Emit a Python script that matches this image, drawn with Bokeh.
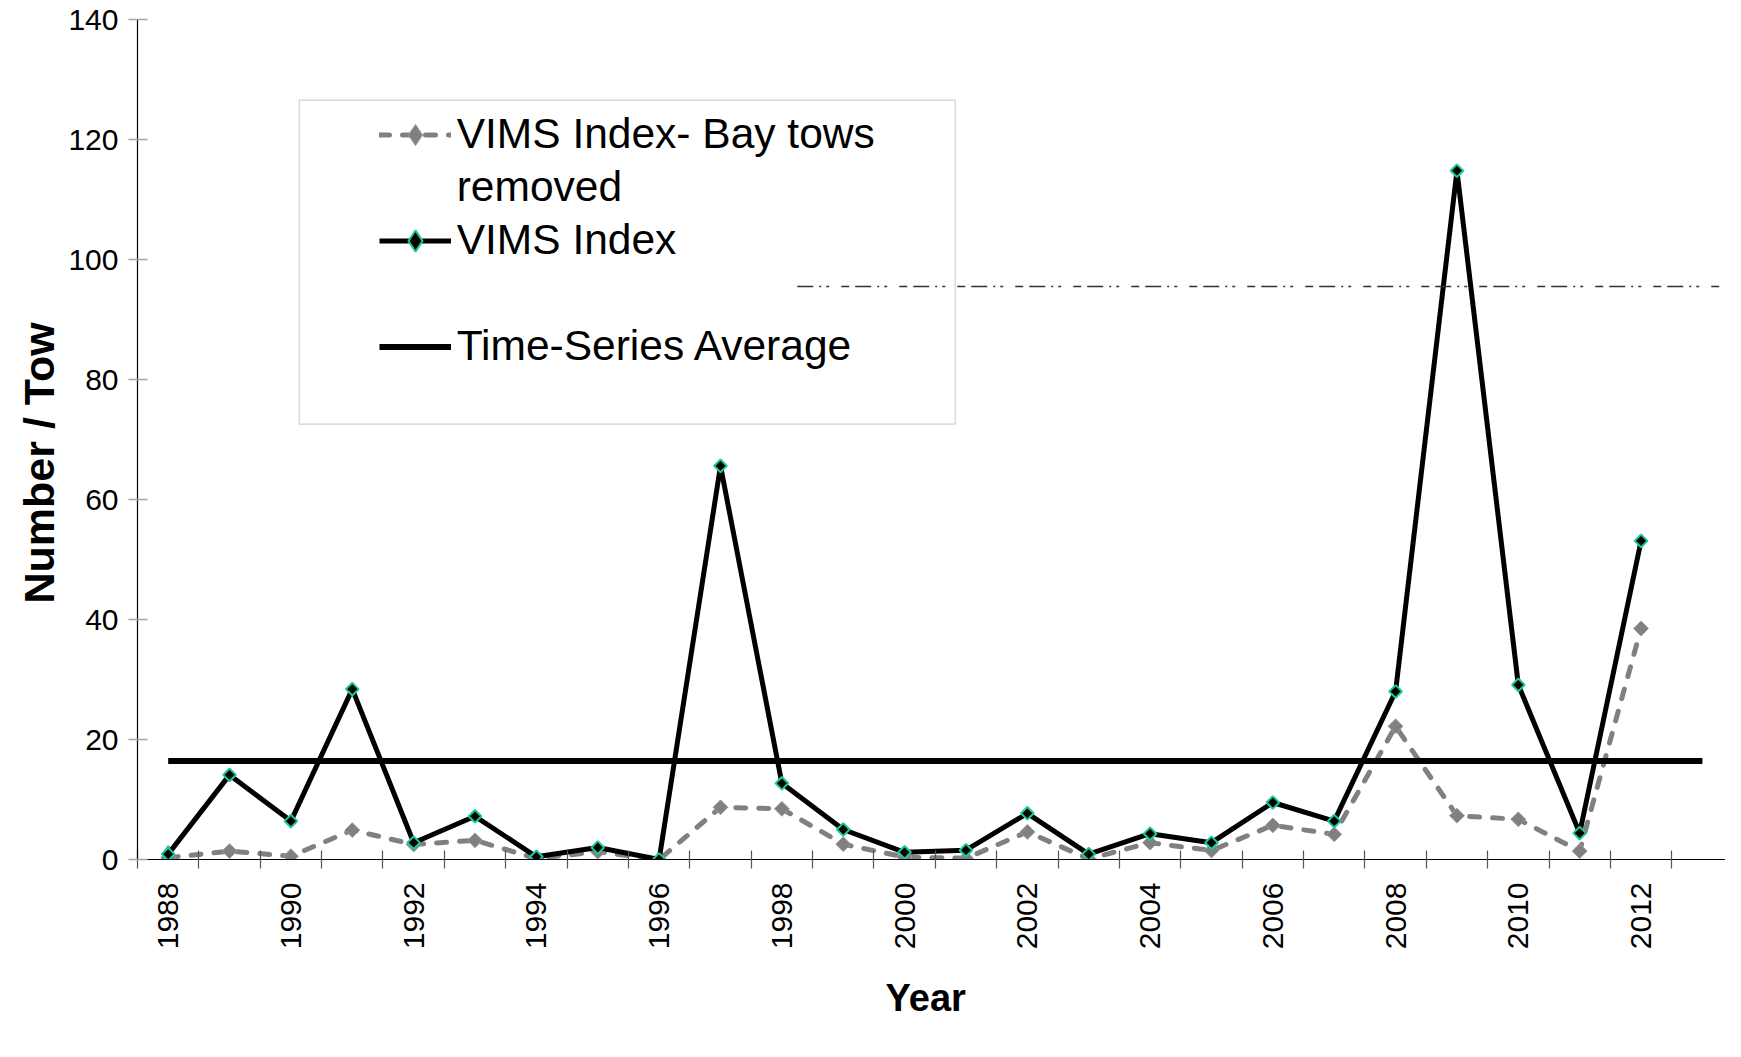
import math
from bokeh.plotting import figure
from bokeh.models import (FixedTicker, Legend, LegendItem, BoxAnnotation, ColumnDataSource, Title)
from bokeh.embed import file_html
from bokeh.resources import INLINE

# ---------------- data ----------------
years = list(range(1988, 2013))
bay_removed = [0.3, 1.4, 0.55, 4.9, 2.5, 3.2, 0.15, 1.3, 0.0, 8.7, 8.45, 2.55, 0.4,
               0.2, 4.6, 0.1, 2.8, 1.5, 5.7, 4.2, 22.2, 7.3, 6.7, 1.4, 38.5]
vims_index = [0.9, 14.1, 6.4, 28.4, 2.8, 7.2, 0.45, 2.0, 0.0, 65.6, 12.7, 5.0, 1.2,
              1.55, 7.7, 0.9, 4.3, 2.8, 9.5, 6.4, 28.0, 114.8, 29.1, 4.4, 53.1]
avg_years = [1988, 2013]
avg_value = [16.4, 16.4]
stray_years = [1998.25, 2013.3]
stray_value = [95.5, 95.5]
x_tick_labels = list(range(1988, 2013, 2))
x_boundaries = [y - 0.5 for y in range(1988, 2015)]
y_ticks = [0, 20, 40, 60, 80, 100, 120, 140]
x_title = "Year"
y_title = "Number / Tow"

FONT = "Liberation Sans"
TEAL = "#1cc99c"
GRAY = "#808080"

p = figure(width=1725, height=1041, output_backend="svg", toolbar_location=None,
           x_range=(1987.5, 2013.376), y_range=(0, 140),
           min_border_left=137, min_border_right=0, min_border_top=19,
           min_border_bottom=182)
p.outline_line_color = None
p.xgrid.visible = False
p.ygrid.visible = False
p.background_fill_color = "white"
p.border_fill_color = "white"

# ---------------- axes ----------------
xa = p.xaxis[0]
xa.ticker = FixedTicker(ticks=x_tick_labels, minor_ticks=x_boundaries)
xa.major_tick_in = 0
xa.major_tick_out = 0
xa.minor_tick_in = 9
xa.minor_tick_out = 9
xa.minor_tick_line_color = "#555555"
xa.minor_tick_line_width = 1.2
xa.axis_line_color = "black"
xa.axis_line_width = 1.2
xa.major_label_orientation = math.pi / 2
xa.major_label_standoff = 14
xa.major_label_text_font = FONT
xa.major_label_text_font_size = "30px"
xa.major_label_text_color = "black"

ya = p.yaxis[0]
ya.ticker = FixedTicker(ticks=y_ticks)
ya.minor_tick_line_color = None
ya.major_tick_in = 10
ya.major_tick_out = 9
ya.major_tick_line_color = "#a6a6a6"
ya.major_tick_line_width = 1.5
ya.axis_line_color = "black"
ya.axis_line_width = 1.2
ya.major_label_standoff = 10
ya.major_label_text_font = FONT
ya.major_label_text_font_size = "30px"
ya.major_label_text_color = "black"

# axis titles as side-panel titles (the reference's titles sit slightly off-centre)
p.add_layout(Title(text=y_title, align="left", offset=256, standoff=6,
                   text_font=FONT, text_font_style="bold", text_font_size="43px",
                   text_color="black"), "left")
p.add_layout(Title(text=x_title, align="left", offset=748, standoff=44,
                   text_font=FONT, text_font_style="bold", text_font_size="38px",
                   text_color="black"), "below")

# ---------------- series ----------------
src_gray = ColumnDataSource(dict(x=years, y=bay_removed))
src_black = ColumnDataSource(dict(x=years, y=vims_index))

# legend key markers (diamonds), drawn beneath the first data point of each series
g_key = p.scatter(years[:1], bay_removed[:1], marker="diamond", size=17,
                  fill_color=GRAY, line_color="#9a9a9a", line_width=1, level="underlay")
b_key = p.scatter(years[:1], vims_index[:1], marker="diamond", size=16,
                  fill_color="black", line_color=TEAL, line_width=2, level="underlay")

g_line = p.line("x", "y", source=src_gray, line_color=GRAY, line_width=5,
                line_dash="10 13", line_cap="round")
g_mark = p.scatter("x", "y", source=src_gray, marker="square", angle=math.pi / 4,
                   size=10.5, fill_color=GRAY, line_color="#9a9a9a", line_width=1)

b_line = p.line("x", "y", source=src_black, line_color="black", line_width=5)
b_mark = p.scatter("x", "y", source=src_black, marker="square", angle=math.pi / 4,
                   size=9, fill_color="black", line_color=TEAL, line_width=2)

a_line = p.line(avg_years, avg_value, line_color="black", line_width=6)

blank = p.line(years[:1], [0], line_alpha=0)

# ---------------- legend ----------------
box = BoxAnnotation(left=161.7, right=817.7, bottom=435.3, top=759.3,
                    left_units="screen", right_units="screen",
                    top_units="screen", bottom_units="screen",
                    fill_color="white", fill_alpha=1.0,
                    line_color="#6e6e6e", line_width=1.2)
p.add_layout(box)

legend = Legend(items=[
    LegendItem(label="VIMS Index- Bay tows", renderers=[g_line, g_key]),
    LegendItem(label="removed", renderers=[blank]),
    LegendItem(label="VIMS Index", renderers=[b_line, b_key]),
    LegendItem(label=" ", renderers=[blank]),
    LegendItem(label="Time-Series Average", renderers=[a_line]),
], location=(241.7, 486.5))
legend.padding = 0
legend.margin = 0
legend.spacing = 0
legend.border_line_alpha = 0
legend.background_fill_alpha = 0
legend.glyph_width = 72
legend.glyph_height = 53
legend.label_height = 53
legend.label_standoff = 6
legend.label_text_font = FONT
legend.label_text_font_size = "42.5px"
legend.label_text_color = "black"
legend.click_policy = "none"
p.add_layout(legend)

# stray thin broken line drawn above the legend box
stray = p.line(stray_years, stray_value, line_color="#333333", line_width=1.5,
               line_dash="16 6 2 5 3 12 8 6")
stray.level = "overlay"

open("out.html", "w").write(file_html(p, INLINE))
